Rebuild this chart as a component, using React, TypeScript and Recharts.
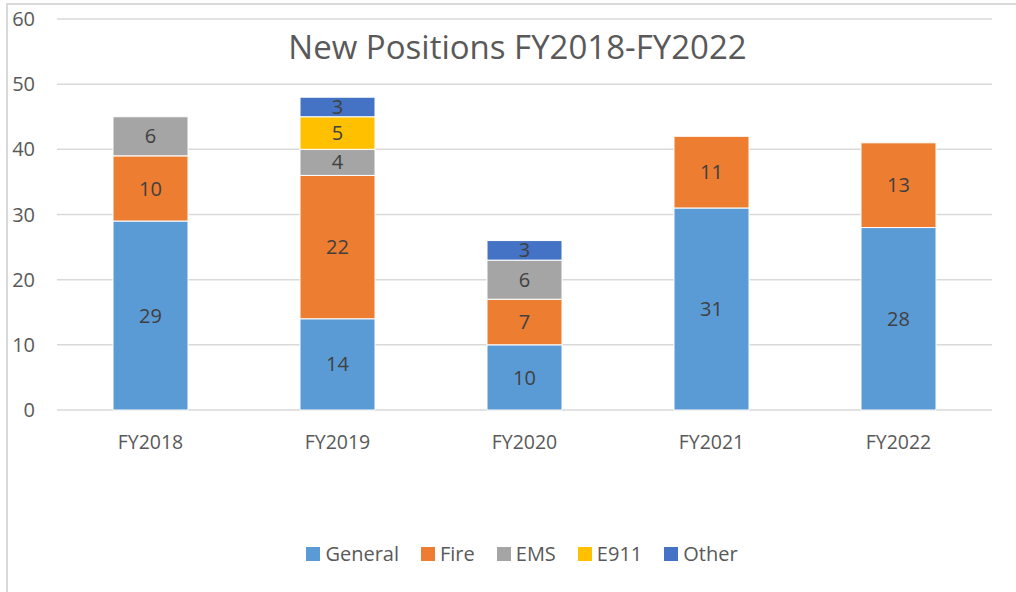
import { BarChart, Bar, XAxis, YAxis, CartesianGrid, LabelList } from 'recharts'

const categories = ['FY2018', 'FY2019', 'FY2020', 'FY2021', 'FY2022']
const general = [29, 14, 10, 31, 28]
const fire = [10, 22, 7, 11, 13]
const ems = [6, 4, 6, 0, 0]
const e911 = [0, 5, 0, 0, 0]
const other = [0, 3, 3, 0, 0]
const yTicks = [0, 10, 20, 30, 40, 50, 60]

const SERIES = [
  { key: 'general', name: 'General', color: '#5B9BD5' },
  { key: 'fire', name: 'Fire', color: '#ED7D31' },
  { key: 'ems', name: 'EMS', color: '#A5A5A5' },
  { key: 'e911', name: 'E911', color: '#FFC000' },
  { key: 'other', name: 'Other', color: '#4472C4' },
]

const data = categories.map((fy, i) => ({
  fy,
  general: general[i],
  fire: fire[i],
  ems: ems[i],
  e911: e911[i],
  other: other[i],
}))

const FONT = '"Open Sans", "Noto Sans", sans-serif'

export default function App() {
  return (
    <div
      style={{
        position: 'fixed',
        top: 0,
        left: 0,
        width: 1016,
        height: 592,
        background: '#fff',
        fontFamily: FONT,
        overflow: 'hidden',
      }}
    >
      <div
        style={{
          position: 'absolute',
          left: 6,
          top: 3,
          width: 1020,
          height: 600,
          borderLeft: '2px solid #d9d9d9',
          borderTop: '2px solid #d9d9d9',
        }}
      />
      <div
        style={{
          position: 'absolute',
          top: 24,
          left: 50,
          width: 935,
          textAlign: 'center',
          fontSize: 33,
          color: '#595959',
        }}
      >
        New Positions FY2018-FY2022
      </div>
      <div style={{ position: 'absolute', top: 0, left: 0 }}>
        <BarChart
          width={1016}
          height={592}
          data={data}
          margin={{ top: 19, right: 24, left: 0, bottom: 152 }}
        >
          <CartesianGrid vertical={false} stroke="#d9d9d9" strokeWidth={1.5} />
          <XAxis
            dataKey="fy"
            height={30}
            axisLine={false}
            tickLine={false}
            tickMargin={19}
            tick={{ fontSize: 19.5, fill: '#595959', fontFamily: FONT }}
          />
          <YAxis
            width={57}
            domain={[0, 60]}
            ticks={yTicks}
            axisLine={false}
            tickLine={false}
            tickMargin={16}
            tick={{ fontSize: 20, fill: '#595959', fontFamily: FONT }}
          />
          {SERIES.map((s) => (
            <Bar
              key={s.key}
              dataKey={s.key}
              name={s.name}
              stackId="a"
              fill={s.color}
              stroke="#fff"
              strokeWidth={1}
              barSize={75}
              isAnimationActive={false}
            >
              <LabelList
                dataKey={s.key}
                position="center"
                formatter={(v: number) => (v ? v : '')}
                style={{ fontSize: 20, fill: '#404040', fontFamily: FONT }}
              />
            </Bar>
          ))}
        </BarChart>
      </div>
      <div
        style={{
          position: 'absolute',
          top: 540,
          left: 0,
          width: 1044,
          display: 'flex',
          justifyContent: 'center',
          gap: 22,
          fontSize: 20,
          color: '#595959',
        }}
      >
        {SERIES.map((s) => (
          <div key={s.key} style={{ display: 'flex', alignItems: 'center', gap: 5 }}>
            <span style={{ width: 14, height: 14, background: s.color, display: 'inline-block' }} />
            <span>{s.name}</span>
          </div>
        ))}
      </div>
    </div>
  )
}
